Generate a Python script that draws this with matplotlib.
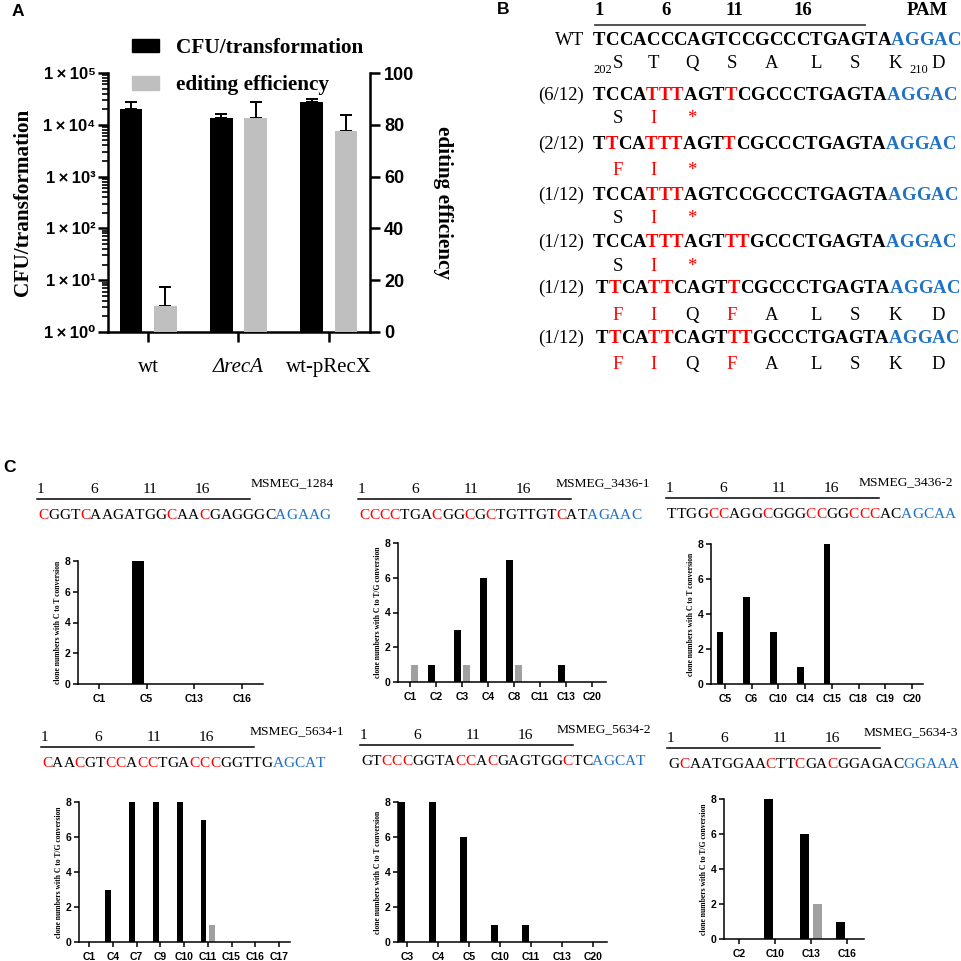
import matplotlib
matplotlib.use('Agg')
import matplotlib.pyplot as plt
import numpy as np
from matplotlib import font_manager
from matplotlib.patches import Patch
from matplotlib.ticker import LogLocator, NullFormatter, FuncFormatter, FixedLocator
from fontTools.ttLib import TTFont

# ---------------- data: panel A ----------------
strains = ['wt', 'ΔrecA', 'wt-pRecX']
cfu = [2.03e4, 1.36e4, 2.77e4]
cfu_err = [7.4e3, 2.9e3, 4.4e3]
edit_eff = [10.0, 82.5, 77.6]
edit_err = [7.3, 6.4, 6.2]

# ---------------- data: panel B ----------------
wt_seq = 'TCCACCCAGTCCGCCCTGAGTA'
pam_b = 'AGGAC'
wt_aa = ['S', 'T', 'Q', 'S', 'A', 'L', 'S', 'K', 'D']
clone_fracs = ['(6/12)', '(2/12)', '(1/12)', '(1/12)', '(1/12)', '(1/12)']
clone_seqs = ['TCCATTTAGTTCGCCCTGAGTA', 'TTCATTTAGTTCGCCCTGAGTA',
              'TCCATTTAGTCCGCCCTGAGTA', 'TCCATTTAGTTTGCCCTGAGTA',
              'TTCATTCAGTTCGCCCTGAGTA', 'TTCATTCAGTTTGCCCTGAGTA']
clone_aas = ['SI*', 'FI*', 'SI*', 'SI*', 'FIQFALSKD', 'FIQFALSKD']
seq_numbers = [1, 6, 11, 16]

# ---------------- data: panel C ----------------
genes = ['MSMEG_1284', 'MSMEG_3436-1', 'MSMEG_3436-2',
         'MSMEG_5634-1', 'MSMEG_5634-2', 'MSMEG_5634-3']
protos = ['CGGTCAAGATGGCAACGAGGGC', 'CCCCTGACGGCGCTGTTGTCAT',
          'TTGGCCAGGCGGGCCGGCCCAC', 'CAACGTCCACCTGACCCGGTTG',
          'GTCCCGGTACCACGAGTGGCTC', 'GCAATGGAACTTCGACGGAGAC']
pams = ['AGAAG', 'AGAAC', 'AGCAA', 'AGCAT', 'AGCAT', 'GGAAA']
red_pos = [[1, 5, 13, 16], [1, 2, 3, 4, 8, 11, 13, 20],
           [5, 6, 10, 14, 15, 18, 19, 20], [1, 4, 7, 8, 10, 11, 15, 16, 17],
           [3, 4, 5, 10, 11, 13, 20], [2, 10, 13, 16]]
sites = [['C1', 'C5', 'C13', 'C16'],
         ['C1', 'C2', 'C3', 'C4', 'C8', 'C11', 'C13', 'C20'],
         ['C5', 'C6', 'C10', 'C14', 'C15', 'C18', 'C19', 'C20'],
         ['C1', 'C4', 'C7', 'C9', 'C10', 'C11', 'C15', 'C16', 'C17'],
         ['C3', 'C4', 'C5', 'C10', 'C11', 'C13', 'C20'],
         ['C2', 'C10', 'C13', 'C16']]
to_T = [[0, 8, 0, 0],
        [0, 1, 3, 6, 7, 0, 1, 0],
        [3, 5, 3, 1, 8, 0, 0, 0],
        [0, 3, 8, 8, 8, 7, 0, 0, 0],
        [8, 8, 6, 1, 1, 0, 0],
        [0, 8, 6, 1]]
to_G = [[0, 0, 0, 0],
        [1, 0, 1, 0, 1, 0, 0, 0],
        [0, 0, 0, 0, 0, 0, 0, 0],
        [0, 0, 0, 0, 0, 1, 0, 0, 0],
        [0, 0, 0, 0, 0, 0, 0],
        [0, 0, 2, 0]]
conv = ['C to T', 'C to T/G', 'C to T', 'C to T/G', 'C to T', 'C to T/G']

# ---------------- layout ----------------
W, H = 962, 961
SERIF = 'Liberation Serif'
SANS = 'Liberation Sans'
RED = '#ff0000'
BLUE = '#1f72c6'
GREY_A = '#bfbfbf'
GREY_C = '#a0a0a0'
SUP = str.maketrans('0123456789', '⁰¹²³⁴⁵⁶⁷⁸⁹')

fig = plt.figure(figsize=(W / 100, H / 100), dpi=100)
fig.patch.set_facecolor('white')


def px_axes(l, t, r, b):
    return fig.add_axes([l / W, 1 - b / H, (r - l) / W, (b - t) / H])


ov = fig.add_axes([0, 0, 1, 1])
ov.set_xlim(0, W)
ov.set_ylim(H, 0)
ov.set_axis_off()
ov.set_zorder(10)

_fontcache = {}


def advances(text, weight, size_pt):
    key = weight
    if key not in _fontcache:
        path = font_manager.findfont(font_manager.FontProperties(family=SERIF, weight=weight))
        tt = TTFont(path)
        _fontcache[key] = (tt.getBestCmap(), tt['hmtx'], tt['head'].unitsPerEm)
    cmap, hmtx, upm = _fontcache[key]
    px = size_pt * 100 / 72
    return [hmtx[cmap[ord(c)]][0] / upm * px for c in text]


def base_of(yc, size):
    return yc + 0.662 * size * 100 / 72 / 2


def draw_seq(x0, yc, chars, colors, size, weight):
    adv = advances(chars, weight, size)
    pen = x0 + np.concatenate([[0], np.cumsum(adv)])
    base = base_of(yc, size)
    for i, (ch, c) in enumerate(zip(chars, colors)):
        ov.text((pen[i] + pen[i + 1]) / 2, base, ch, color=c, ha='center', va='baseline',
                fontfamily=SERIF, fontweight=weight, fontsize=size)
    return pen


# ================= Panel A =================
FA = 15.3
axA = px_axes(108, 73, 370, 332)
xA = np.arange(len(strains))
axA.set_yscale('log')
axA.errorbar(xA - 0.19, cfu, yerr=[np.zeros(len(cfu)), cfu_err], fmt='none', ecolor='black',
             elinewidth=1.4, capsize=4, capthick=1.4, zorder=2)
axA.bar(xA - 0.19, cfu, 0.25, color='black', zorder=3)
axA.set_ylim(1, 1e5)
axA.set_xlim(-0.444, 2.456)
axA.yaxis.set_major_locator(FixedLocator([1, 10, 100, 1e3, 1e4, 1e5]))
axA.yaxis.set_major_formatter(FuncFormatter(
    lambda v, p: '1\u2009×\u200910' + str(int(round(np.log10(v)))).translate(SUP)))
axA.yaxis.set_minor_locator(LogLocator(base=10, subs=np.arange(2, 10), numticks=20))
axA.yaxis.set_minor_formatter(NullFormatter())
axA.tick_params(axis='y', which='major', direction='out', length=7, width=1.8, labelsize=12, pad=2)
axA.tick_params(axis='y', which='minor', direction='out', length=4, width=1.2)
axA.tick_params(axis='x', direction='out', length=7, width=1.8, pad=12)
for lab in axA.get_yticklabels():
    lab.set_fontfamily([SANS, 'DejaVu Sans'])
    lab.set_fontweight('bold')
axA.set_xticks(xA)
axA.set_xticklabels(strains, fontfamily=SERIF, fontsize=15)
axA.get_xticklabels()[1].set_style('italic')
for s in ['top', 'right']:
    axA.spines[s].set_visible(False)
for s in ['left', 'bottom']:
    axA.spines[s].set_linewidth(1.8)
axA.set_ylabel('CFU/transformation', fontfamily=SERIF, fontweight='bold', fontsize=FA, va='center')
axA.yaxis.set_label_coords((23 - 108) / 262, 0.5)

axA2 = axA.twinx()
axA2.errorbar(xA + 0.19, edit_eff, yerr=[np.zeros(len(edit_eff)), edit_err], fmt='none',
              ecolor='black', elinewidth=1.4, capsize=4, capthick=1.4, zorder=2)
axA2.bar(xA + 0.19, edit_eff, 0.25, color=GREY_A, zorder=3)
axA2.set_ylim(0, 100)
axA2.set_yticks([0, 20, 40, 60, 80, 100])
for lab in axA2.get_yticklabels():
    lab.set_fontfamily(SANS)
    lab.set_fontweight('bold')
axA2.tick_params(axis='y', direction='out', length=7, width=1.8, labelsize=13, pad=3)
for s in ['top', 'left', 'bottom']:
    axA2.spines[s].set_visible(False)
axA2.spines['right'].set_linewidth(1.8)
axA2.set_ylabel('editing efficiency', fontfamily=SERIF, fontweight='bold', fontsize=FA,
                rotation=270, va='center', ha='center')
axA2.yaxis.set_label_coords((443 - 108) / 262, 0.5)

handles = [Patch(color='black', label='CFU/transformation'),
           Patch(color=GREY_A, label='editing efficiency')]
axA2.legend(handles=handles, loc='upper left', bbox_to_anchor=(132 / W, 1 - 38 / H),
            bbox_transform=fig.transFigure, frameon=False,
            prop=dict(family=SERIF, weight='bold', size=FA),
            handlelength=1.27, handleheight=0.62, handletextpad=0.8, labelspacing=0.82,
            borderpad=0, borderaxespad=0)

ov.text(12, 11.5, 'A', fontfamily=SANS, fontweight='bold', fontsize=12.5, ha='left', va='center')

# ================= Panel B =================
ov.text(497, 10, 'B', fontfamily=SANS, fontweight='bold', fontsize=12.5, ha='left', va='center')
SB = 13.5
xB = 593
wt_full = wt_seq + pam_b
wt_cols = ['black'] * len(wt_seq) + [BLUE] * len(pam_b)
pen = draw_seq(xB, 39, wt_full, wt_cols, SB, 'bold')
for n in seq_numbers:
    ov.text((pen[n - 1] + pen[n]) / 2, base_of(9, SB), str(n), ha='center', va='baseline',
            fontfamily=SERIF, fontweight='bold', fontsize=SB)
ov.text(927, base_of(9, SB), 'PAM', ha='center', va='baseline', fontfamily=SERIF,
        fontweight='bold', fontsize=SB)
ov.plot([595, 865], [25, 25], color='#444444', lw=1.3)
ov.text(584, base_of(39, SB), 'WT', ha='right', va='baseline', fontfamily=SERIF, fontsize=SB)

aa_x = [618, 653, 692, 732, 772, 816, 855, 895, 938]
for k, a in enumerate(wt_aa):
    ov.text(aa_x[k], base_of(62, SB), a, ha='center', va='baseline', fontfamily=SERIF, fontsize=SB)
ov.text(612, base_of(62, SB) + 5, '202', ha='right', va='baseline', fontfamily=SERIF, fontsize=9)
ov.text(928, base_of(62, SB) + 5, '210', ha='right', va='baseline', fontfamily=SERIF, fontsize=9)

row_y = [94, 143, 194, 241, 287, 337]
aa_y = [117, 169, 217, 265, 314, 363]
row_x = [593, 593, 593, 593, 596, 596]
for r in range(len(clone_seqs)):
    s = clone_seqs[r]
    cols = [RED if s[i] != wt_seq[i] else 'black' for i in range(len(s))] + [BLUE] * len(pam_b)
    draw_seq(row_x[r], row_y[r], s + pam_b, cols, SB, 'bold')
    ov.text(584, base_of(row_y[r], SB), clone_fracs[r], ha='right', va='baseline',
            fontfamily=SERIF, fontsize=SB)
    for k, a in enumerate(clone_aas[r]):
        c = 'black' if a == wt_aa[k] else RED
        ov.text(aa_x[k], base_of(aa_y[r], SB), a, ha='center', va='baseline', color=c,
                fontfamily=SERIF, fontsize=SB)

# ================= Panel C =================
ov.text(3, 467, 'C', fontfamily=SANS, fontweight='bold', fontsize=12.5, ha='left', va='center')
SC = 11.1
SG = 9.7
c_axes_px = [(78, 561, 263, 684), (398, 543, 606, 682), (711, 544, 923, 684),
             (79, 802, 290, 942), (398, 802, 607, 942), (724, 799, 864, 939)]
c_xlims = [(-0.44, 3.44), (-0.46, 7.54), (-0.52, 7.41),
           (-0.42, 8.46), (-0.29, 6.45), (-0.42, 3.47)]
c_seq_org = [(38, 514), (359, 514), (667, 513), (42, 762), (361, 760), (668, 763)]
c_gene_x = [251, 556, 859, 250, 557, 864]
num_off = [3, 56, 112, 164]

for i in range(6):
    x0, ys = c_seq_org[i]
    seq = protos[i] + pams[i]
    cols = [RED if (j + 1) in red_pos[i] else 'black' for j in range(len(protos[i]))] + [BLUE] * len(pams[i])
    draw_seq(x0, ys, seq, cols, SC, 'normal')
    for n, o in zip(seq_numbers, num_off):
        ov.text(x0 + o, base_of(ys - 26, SC), str(n), ha='center', va='baseline',
                fontfamily=SERIF, fontsize=SC)
    ov.plot([x0 - 1, x0 + 212], [ys - 15, ys - 15], color='black', lw=1.1)
    ov.text(c_gene_x[i], base_of(ys - 32, SG), genes[i], ha='left', va='baseline',
            fontfamily=SERIF, fontsize=SG)

    l, t, r, b = c_axes_px[i]
    ax = px_axes(l, t, r, b)
    xs = np.arange(len(sites[i]))
    ax.bar(xs - 0.18, to_T[i], 0.25, color='black')
    ax.bar(xs + 0.18, to_G[i], 0.25, color=GREY_C)
    ax.set_xlim(*c_xlims[i])
    ax.set_ylim(0, 8)
    ax.set_yticks([0, 2, 4, 6, 8])
    ax.set_xticks(xs)
    ax.set_xticklabels(sites[i])
    for lab in ax.get_xticklabels() + ax.get_yticklabels():
        lab.set_fontfamily(SANS)
        lab.set_fontweight('bold')
        lab.set_fontsize(7.5)
    for s in ['top', 'right']:
        ax.spines[s].set_visible(False)
    for s in ['left', 'bottom']:
        ax.spines[s].set_linewidth(1.1)
    ax.tick_params(direction='out', length=3.5, width=1.1, pad=2)
    ax.tick_params(axis='x', pad=4)
    ax.set_ylabel('clone numbers with ' + conv[i] + ' conversion', fontfamily=SERIF,
                  fontweight='bold', fontsize=5.5, va='center')
    ax.yaxis.set_label_coords(-20 / (r - l), 0.5)

fig.savefig('out.png', dpi=100)
